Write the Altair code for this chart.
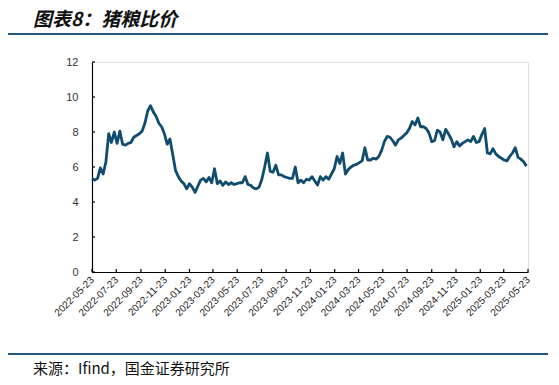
import altair as alt
import pandas as pd

# ---------------- data ----------------
title_text = "图表8：猪粮比价"
source_text = "来源：Ifind，国金证券研究所"

start_date = "2022-05-23"
ratio = [
    5.35, 5.25, 5.35, 5.95, 5.6, 6.3, 7.9, 7.4, 8.0, 7.35,
    8.05, 7.3, 7.25, 7.35, 7.4, 7.7, 7.8, 7.9, 8.05, 8.5,
    9.2, 9.5, 9.15, 8.9, 8.5, 8.3, 7.9, 7.3, 7.6, 6.7,
    5.8, 5.45, 5.2, 5.05, 4.75, 5.05, 4.85, 4.55, 4.9, 5.25,
    5.35, 5.15, 5.4, 5.1, 5.9, 5.05, 5.2, 4.95, 5.15, 5.0,
    5.1, 5.0, 5.05, 5.1, 5.1, 5.45, 5.0, 4.95, 4.8, 4.75,
    4.85, 5.3, 6.0, 6.8, 5.75, 5.7, 6.1, 5.55, 5.55, 5.45,
    5.4, 5.35, 5.35, 6.0, 5.1, 5.25, 5.1, 5.3, 5.25, 5.45,
    5.2, 4.97, 5.45, 5.25, 5.45, 5.3, 5.6, 5.9, 6.6, 6.2,
    6.8, 5.6, 5.85, 6.0, 6.1, 6.15, 6.25, 6.35, 7.1, 6.4,
    6.4, 6.5, 6.45, 6.6, 6.95, 7.45, 7.75, 7.7, 7.5, 7.25,
    7.55, 7.65, 7.8, 7.95, 8.2, 8.6, 8.4, 8.8, 8.3, 8.3,
    8.2, 7.95, 7.45, 7.5, 8.1, 8.0, 7.55, 8.15, 7.9, 7.6,
    7.15, 7.45, 7.2, 7.35, 7.45, 7.55, 7.45, 7.75, 7.4, 7.45,
    7.85, 8.2, 6.8, 6.75, 7.05, 6.75, 6.6, 6.5, 6.4, 6.35,
    6.6, 6.8, 7.1, 6.55, 6.45, 6.3, 6.05,
]
tick_dates = [
    "2022-05-23", "2022-07-23", "2022-09-23", "2022-11-23", "2023-01-23",
    "2023-03-23", "2023-05-23", "2023-07-23", "2023-09-23", "2023-11-23",
    "2024-01-23", "2024-03-23", "2024-05-23", "2024-07-23", "2024-09-23",
    "2024-11-23", "2025-01-23", "2025-03-23", "2025-05-23",
]
y_ticks = [0, 2, 4, 6, 8, 10, 12]

# ---------------- tables ----------------
dates = pd.date_range(start_date, periods=len(ratio), freq="7D")
df = pd.DataFrame({"date": dates.strftime("%Y-%m-%d"), "v": ratio})
ticks_df = pd.DataFrame({"date": tick_dates})
yt_df = pd.DataFrame({"v": y_ticks})


def dt(s):
    y, m, d = (int(p) for p in s.split("-"))
    return alt.DateTime(year=y, month=m, date=d, utc=True)


W, H = 436, 210
LINE = "#0f4c6e"
RULE = "#24577f"
FONT = "Liberation Sans"
CJK = "Noto Sans CJK SC"

xscale = alt.Scale(type="utc", domain=[dt(tick_dates[0]), dt(tick_dates[-1])])
yscale = alt.Scale(domain=[0, 12], nice=False)

x_axis = alt.Axis(
    values=[dt(t) for t in tick_dates],
    format="%Y-%m-%d",
    labelAngle=-45,
    labelAlign="right",
    labelBaseline="middle",
    labelPadding=6,
    labelFont=FONT,
    labelFontSize=10,
    labelColor="#222222",
    labelOverlap=False,
    labelFlush=False,
    labelBound=False,
    ticks=False,
    grid=False,
    domainColor="#000000",
    domainWidth=1.2,
)
y_axis = alt.Axis(
    values=y_ticks,
    labelFont=FONT,
    labelFontSize=11,
    labelColor="#333333",
    labelPadding=14,
    labelOverlap=False,
    labelFlush=False,
    ticks=False,
    grid=False,
    domainColor="#000000",
    domainWidth=1.2,
)

line = alt.Chart(df).mark_line(color=LINE, strokeWidth=2.8, strokeJoin="round").encode(
    x=alt.X("date:T", scale=xscale, title=None, axis=x_axis),
    y=alt.Y("v:Q", scale=yscale, title=None, axis=y_axis),
)

xticks = alt.Chart(ticks_df).mark_rule(color="#000000", strokeWidth=1.2).encode(
    x=alt.X("date:T", scale=xscale, title=None, axis=x_axis),
    y=alt.value(H),
    y2=alt.value(H - 3),
)

yticks = alt.Chart(yt_df).mark_rule(color="#000000", strokeWidth=1.2).encode(
    y=alt.Y("v:Q", scale=yscale, title=None, axis=y_axis),
    x=alt.value(0),
    x2=alt.value(3),
)

one = pd.DataFrame({"t": [title_text], "s": [source_text]})

title = alt.Chart(one).mark_text(
    font=CJK, fontSize=19, fontWeight="bold", fontStyle="italic",
    align="left", baseline="middle", color="#111111",
).encode(x=alt.value(-59), y=alt.value(-42), text="t:N")

source = alt.Chart(one).mark_text(
    font=CJK, fontSize=15, align="left", baseline="alphabetic", color="#111111",
).encode(x=alt.value(-59), y=alt.value(312), text="s:N")

top_rule = alt.Chart(one).mark_rule(color=RULE, strokeWidth=2).encode(
    x=alt.value(-84), x2=alt.value(461), y=alt.value(-28)
)
bottom_rule = alt.Chart(one).mark_rule(color=RULE, strokeWidth=2).encode(
    x=alt.value(-84), x2=alt.value(461), y=alt.value(292)
)

chart = (
    alt.layer(line, xticks, yticks, title, source, top_rule, bottom_rule)
    .properties(
        width=W,
        height=H,
        padding={"left": 84, "top": 54, "right": 20, "bottom": 108},
        autosize=alt.AutoSizeParams(type="none"),
    )
    .configure_view(stroke=None)
    .configure(background="white")
)

chart.save("out.html", embed_options={"renderer": "svg", "actions": False})
